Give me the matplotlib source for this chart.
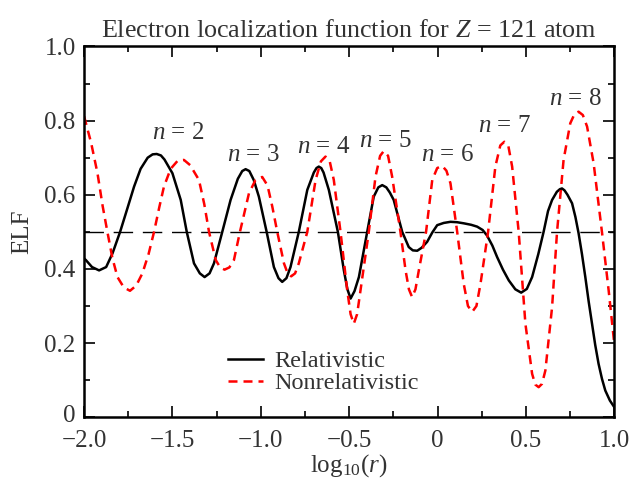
import matplotlib.pyplot as plt
from matplotlib.transforms import ScaledTranslation

plt.rcParams['font.family'] = ['Liberation Serif', 'DejaVu Serif']
plt.rcParams['mathtext.fontset'] = 'custom'
plt.rcParams['mathtext.rm'] = 'Liberation Serif'
plt.rcParams['mathtext.it'] = 'Liberation Serif:italic'
plt.rcParams['text.color'] = '#333333'
plt.rcParams['axes.labelcolor'] = '#333333'
plt.rcParams['xtick.labelcolor'] = '#333333'
plt.rcParams['ytick.labelcolor'] = '#333333'

# relativistic ELF
rel_x = [-2.0, -1.99, -1.955, -1.915, -1.875, -1.839, -1.796, -1.757, -1.717, -1.68, -1.64,
         -1.612, -1.589, -1.565, -1.545, -1.50, -1.453, -1.419, -1.378, -1.345, -1.318, -1.29,
         -1.265, -1.218, -1.171, -1.13, -1.105, -1.086, -1.065, -1.04, -1.011, -0.967, -0.926,
         -0.90, -0.879, -0.855, -0.832, -0.785, -0.737, -0.70, -0.685, -0.672, -0.658, -0.645,
         -0.615, -0.564, -0.530, -0.51, -0.492, -0.47, -0.445, -0.398, -0.361, -0.335, -0.313,
         -0.29, -0.27, -0.248, -0.200, -0.163, -0.14, -0.115, -0.09, -0.059, -0.03, -0.002,
         0.035, 0.073, 0.11, 0.148, 0.19, 0.224, 0.255, 0.280, 0.31, 0.337, 0.37, 0.403, 0.44,
         0.473, 0.505, 0.535, 0.57, 0.600, 0.625, 0.648, 0.675, 0.692, 0.704, 0.718, 0.735,
         0.761, 0.78, 0.798, 0.817, 0.836, 0.855, 0.874, 0.892, 0.911, 0.93, 0.949, 0.975, 1.0]
rel_y = [0.428, 0.424, 0.405, 0.396, 0.405, 0.442, 0.500, 0.560, 0.622, 0.670, 0.700,
         0.709, 0.710, 0.706, 0.695, 0.658, 0.586, 0.500, 0.415, 0.388, 0.378, 0.388,
         0.415, 0.500, 0.586, 0.643, 0.664, 0.669, 0.664, 0.640, 0.595, 0.500, 0.405,
         0.375, 0.365, 0.375, 0.405, 0.500, 0.613, 0.660, 0.672, 0.676, 0.672, 0.660,
         0.613, 0.500, 0.396, 0.345, 0.320, 0.340, 0.378, 0.500, 0.595, 0.620, 0.626,
         0.620, 0.606, 0.586, 0.500, 0.459, 0.450, 0.449, 0.457, 0.473, 0.498, 0.518,
         0.524, 0.527, 0.526, 0.523, 0.519, 0.514, 0.505, 0.490, 0.463, 0.432, 0.398, 0.369,
         0.345, 0.336, 0.346, 0.378, 0.440, 0.500, 0.556, 0.586, 0.608, 0.615, 0.617, 0.612,
         0.600, 0.577, 0.540, 0.496, 0.440, 0.378, 0.312, 0.252, 0.195, 0.144, 0.104, 0.072,
         0.045, 0.027]

# non-relativistic ELF
nrel_x = [-2.0, -1.96, -1.924, -1.895, -1.868, -1.84, -1.811, -1.775, -1.740, -1.705, -1.670,
          -1.635, -1.604, -1.575, -1.548, -1.51, -1.47, -1.435, -1.40, -1.350, -1.32, -1.293,
          -1.255, -1.230, -1.205, -1.178, -1.152, -1.118, -1.067, -1.03, -0.992, -0.962, -0.935,
          -0.907, -0.869, -0.848, -0.828, -0.806, -0.785, -0.737, -0.690, -0.66, -0.634, -0.61,
          -0.587, -0.549, -0.511, -0.492, -0.474, -0.455, -0.436, -0.389, -0.351, -0.325,
          -0.304, -0.28, -0.257, -0.210, -0.181, -0.162, -0.144, -0.125, -0.106, -0.065, -0.030,
          -0.002, 0.026, 0.05, 0.073, 0.111, 0.148, 0.172, 0.196, 0.22, 0.243, 0.286, 0.327,
          0.355, 0.378, 0.40, 0.422, 0.459, 0.497, 0.535, 0.553, 0.572, 0.591, 0.610, 0.648,
          0.676, 0.713, 0.751, 0.775, 0.798, 0.822, 0.846, 0.883, 0.930, 0.968, 1.0]
nrel_y = [0.812, 0.740, 0.658, 0.570, 0.500, 0.430, 0.378, 0.350, 0.341, 0.355, 0.388,
          0.440, 0.500, 0.565, 0.622, 0.670, 0.692, 0.694, 0.680, 0.640, 0.575, 0.500,
          0.424, 0.404, 0.398, 0.404, 0.424, 0.500, 0.604, 0.640, 0.648, 0.625, 0.568,
          0.500, 0.415, 0.388, 0.380, 0.388, 0.415, 0.500, 0.640, 0.690, 0.703, 0.690,
          0.640, 0.500, 0.342, 0.278, 0.252, 0.278, 0.342, 0.500, 0.649, 0.705,
          0.718, 0.705, 0.649, 0.500, 0.396, 0.345, 0.324, 0.345, 0.396, 0.500, 0.640,
          0.672, 0.678, 0.665, 0.631, 0.500, 0.360, 0.300, 0.284, 0.300, 0.360, 0.500, 0.676,
          0.733, 0.743, 0.733, 0.676, 0.500, 0.252, 0.117, 0.088, 0.081, 0.090, 0.126, 0.297,
          0.500, 0.694, 0.793, 0.818, 0.824, 0.815, 0.784, 0.685, 0.500, 0.342, 0.198]

shell_labels = ['2', '3', '4', '5', '6', '7', '8']
shell_x = [-1.47, -1.04, -0.645, -0.295, 0.056, 0.377, 0.78]
shell_y = [0.766, 0.707, 0.729, 0.745, 0.707, 0.786, 0.858]

fig = plt.figure(figsize=(6.32, 4.84), dpi=100)
ax = fig.add_axes([0.133, 0.138, 0.839, 0.766])

ax.axhline(0.5, color='black', lw=1.0, dashes=(14, 7))
ax.plot(rel_x, rel_y, color='black', lw=1.8, solid_joinstyle='round', label='Relativistic')
ax.plot(nrel_x, nrel_y, color='red', lw=1.8, dashes=(3.6, 2.4), label='Nonrelativistic')

for lab, x, y in zip(shell_labels, shell_x, shell_y):
    ax.text(x, y, '$n$ = ' + lab, ha='center', va='center', fontsize=18)

ax.set_xlim(-2, 1)
ax.set_ylim(0, 1)
ax.set_xticks([-2.0, -1.5, -1.0, -0.5, 0, 0.5, 1.0])
ax.set_xticklabels(['\u22122.0', '\u22121.5', '\u22121.0', '\u22120.5', '0', '0.5', '1.0'])
ax.set_xticks([-1.75, -1.25, -0.75, -0.25, 0.25, 0.75], minor=True)
ax.set_yticks([0, 0.2, 0.4, 0.6, 0.8, 1.0])
ax.set_yticklabels(['0', '0.2', '0.4', '0.6', '0.8', '1.0'])
ax.set_yticks([0.1, 0.3, 0.5, 0.7, 0.9], minor=True)
ax.tick_params(which='both', direction='in', top=True, right=True, width=1.2)
ax.tick_params(axis='x', labelsize=18, pad=9)
ax.tick_params(axis='y', labelsize=18, pad=6)
ax.tick_params(which='major', length=8)
ax.tick_params(which='minor', length=4)
for s in ax.spines.values():
    s.set_linewidth(1.8)

# nudge the "0" on the y axis up a little so it clears the "-2.0" below it
zero_lab = ax.get_yticklabels()[0]
zero_lab.set_transform(zero_lab.get_transform() + ScaledTranslation(0, 3 / 72, fig.dpi_scale_trans))

ax.set_xlabel('log$_{10}$($r$)', fontsize=18, labelpad=0)
ax.set_ylabel('ELF', fontsize=18, labelpad=8)
ax.set_title('Electron localization function for $Z$ = 121 atom', fontsize=18.8, pad=7)

ax.legend(loc='upper left', bbox_to_anchor=(0.244, 0.22), frameon=False, fontsize=17.5,
          handlelength=1.45, handletextpad=0.45, labelspacing=0.0, borderpad=0.1)

plt.savefig('out.png', dpi=100)
